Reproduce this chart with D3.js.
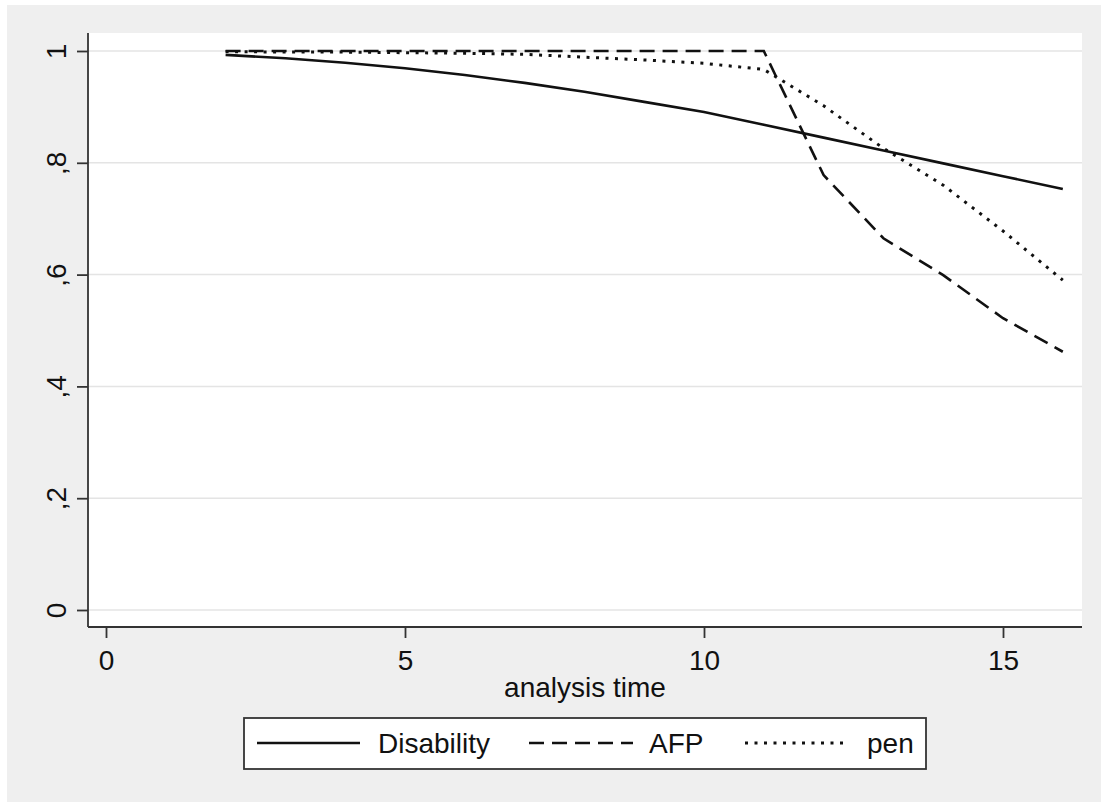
<!DOCTYPE html>
<html><head><meta charset="utf-8">
<script src="https://cdn.jsdelivr.net/npm/d3@7"></script>
<style>html,body{margin:0;padding:0;background:#fff;}svg{display:block;}</style>
</head><body>
<script>
// ---- data ----
const times      = [2,3,4,5,6,7,8,9,10,11,12,13,14,15,16];
const disability = [0.993,0.987,0.979,0.969,0.957,0.943,0.927,0.909,0.891,0.868,0.845,0.822,0.799,0.776,0.753];
const afp        = [1,1,1,1,1,1,1,1,1,1,0.778,0.665,0.599,0.522,0.462];
const pen        = [0.999,0.998,0.998,0.997,0.996,0.994,0.989,0.984,0.978,0.967,0.902,0.826,0.760,0.678,0.590];
const seriesNames = ["Disability","AFP","pen"];
const xTicks = [0,5,10,15];
const yTicks = [0,0.2,0.4,0.6,0.8,1];
const yTickLabels = ["0",",2",",4",",6",",8","1"];
const xTitle = "analysis time";

const W = 1101, H = 802;
const font = "'Liberation Sans', Arial, sans-serif";
const svg = d3.select("body").append("svg").attr("width", W).attr("height", H);

svg.append("rect").attr("x",7).attr("y",5).attr("width",W-7).attr("height",H-5).attr("fill","#efefef");

const plot = {l:88, r:1082, t:33, b:627};
svg.append("rect").attr("x",plot.l).attr("y",plot.t).attr("width",plot.r-plot.l).attr("height",plot.b-plot.t).attr("fill","#fff");

const x = d3.scaleLinear().domain([0,16]).range([106, 106+16*59.8]);
const y = d3.scaleLinear().domain([0,1]).range([610, 51]);

// grid
svg.append("g").selectAll("line").data(yTicks).join("line")
  .attr("x1",plot.l).attr("x2",plot.r).attr("y1",d=>y(d)).attr("y2",d=>y(d))
  .attr("stroke","#e4e4e4").attr("stroke-width",1.5);

// y axis
const yAxis = svg.append("g").attr("transform",`translate(${plot.l},0)`)
  .call(d3.axisLeft(y).tickValues(yTicks).tickSize(11).tickFormat((d,i)=>yTickLabels[i]));
yAxis.select(".domain").attr("d",`M0,${plot.t}V${plot.b}`).attr("stroke","#333").attr("stroke-width",1.8);
yAxis.selectAll(".tick line").attr("stroke","#333").attr("stroke-width",1.8);
yAxis.selectAll(".tick text").attr("font-family",font).attr("font-size",28).attr("fill","#111")
  .attr("text-anchor","middle").attr("dy",null).attr("x",null)
  .attr("transform","translate(-22,0) rotate(-90)").attr("y",0);

// x axis
const xAxis = svg.append("g").attr("transform",`translate(0,${plot.b})`)
  .call(d3.axisBottom(x).tickValues(xTicks).tickSize(11).tickFormat(d3.format("d")));
xAxis.select(".domain").attr("d",`M${plot.l},0H${plot.r}`).attr("stroke","#333").attr("stroke-width",1.8);
xAxis.selectAll(".tick line").attr("stroke","#333").attr("stroke-width",1.8);
xAxis.selectAll(".tick text").attr("font-family",font).attr("font-size",28).attr("fill","#111")
  .attr("dy",null).attr("y",43);

svg.append("text").attr("x",(plot.l+plot.r)/2).attr("y",697).attr("text-anchor","middle")
  .attr("font-family",font).attr("font-size",28).attr("fill","#111").text(xTitle);

// lines
const dashes = [null, "15,8", "3,6.5"];
const widths = [2.6, 2.6, 3];
const data = [disability, afp, pen];
const line = d3.line().x((d,i)=>x(times[i])).y(d=>y(d));
data.forEach((vals,k)=>{
  svg.append("path").datum(vals).attr("d",line).attr("fill","none")
    .attr("stroke","#111").attr("stroke-width",widths[k])
    .attr("stroke-dasharray",dashes[k]);
});

// legend
const lg = svg.append("g");
lg.append("rect").attr("x",244).attr("y",718).attr("width",682).attr("height",51)
  .attr("fill","#fff").attr("stroke","#333").attr("stroke-width",1.8);
const legItems = [
  {x1:257,x2:360,tx:378},
  {x1:529,x2:633,tx:649},
  {x1:745,x2:846,tx:867}
];
legItems.forEach((it,k)=>{
  lg.append("line").attr("x1",it.x1).attr("x2",it.x2).attr("y1",743).attr("y2",743)
    .attr("stroke","#111").attr("stroke-width",widths[k]).attr("stroke-dasharray",dashes[k]);
  lg.append("text").attr("x",it.tx).attr("y",753).attr("font-family",font).attr("font-size",28)
    .attr("fill","#111").text(seriesNames[k]);
});
</script>
</body></html>
